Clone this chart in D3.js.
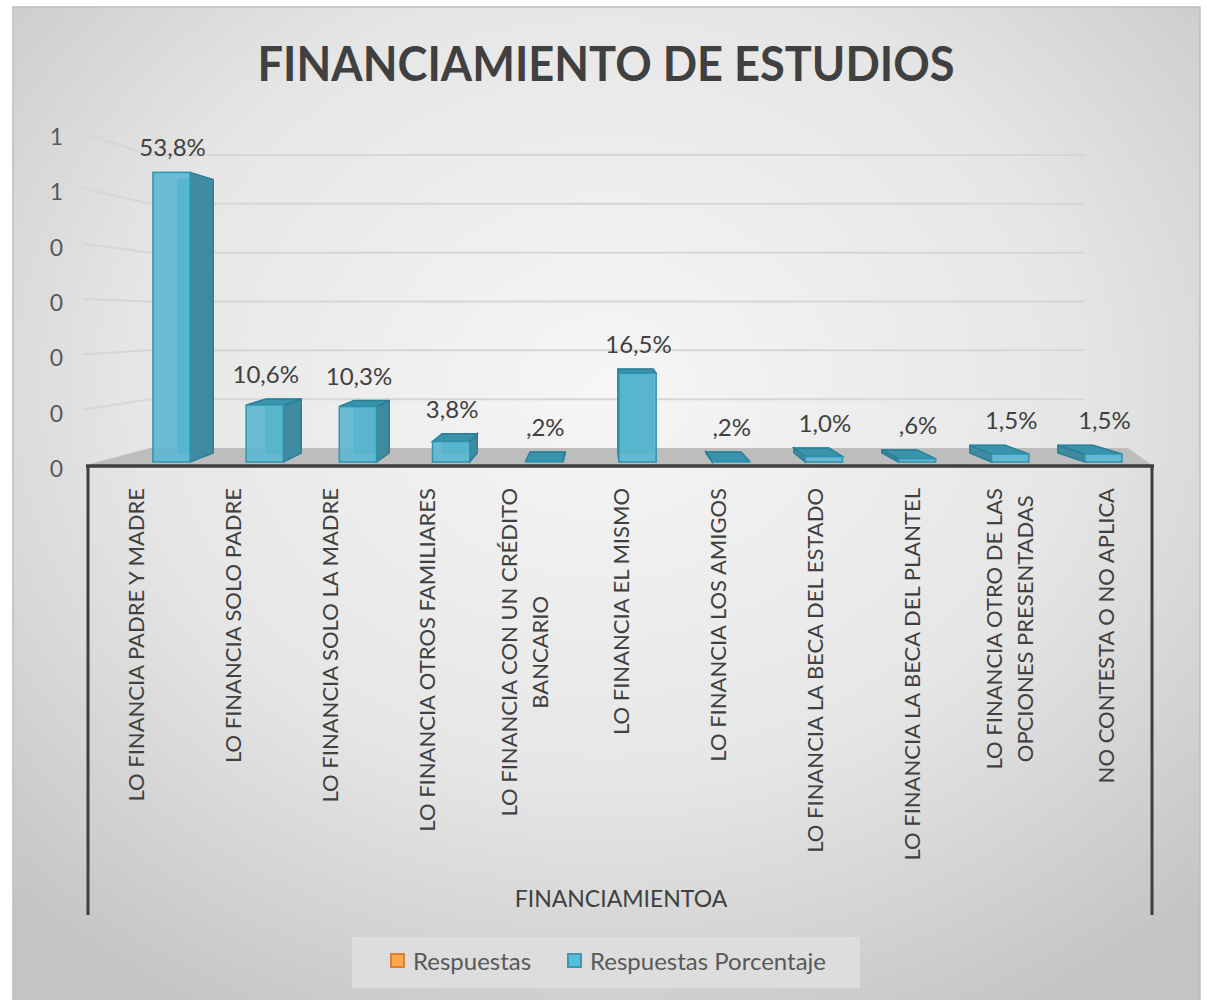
<!DOCTYPE html>
<html>
<head>
<meta charset="utf-8">
<script src="https://cdn.jsdelivr.net/npm/d3@7"></script>
<style>
  body { margin: 0; background: #fff; }
  text { font-family: Lato, "Open Sans", sans-serif; }
</style>
</head>
<body>
<div id="chart"></div>
<script>
// data
var categories = [
  "LO FINANCIA PADRE Y MADRE",
  "LO FINANCIA SOLO PADRE",
  "LO FINANCIA SOLO LA MADRE",
  "LO FINANCIA OTROS FAMILIARES",
  "LO FINANCIA CON UN CRÉDITO BANCARIO",
  "LO FINANCIA EL MISMO",
  "LO FINANCIA LOS AMIGOS",
  "LO FINANCIA LA BECA DEL ESTADO",
  "LO FINANCIA LA BECA DEL PLANTEL",
  "LO FINANCIA OTRO DE LAS OPCIONES PRESENTADAS",
  "NO CONTESTA O NO APLICA"
];
var labelLines = {
  "LO FINANCIA CON UN CRÉDITO BANCARIO": ["LO FINANCIA CON UN CRÉDITO", "BANCARIO"],
  "LO FINANCIA OTRO DE LAS OPCIONES PRESENTADAS": ["LO FINANCIA OTRO DE LAS", "OPCIONES PRESENTADAS"]
};
var porcentaje = [0.538, 0.106, 0.103, 0.038, 0.002, 0.165, 0.002, 0.010, 0.006, 0.015, 0.015];
var yTicks = [0, 0.1, 0.2, 0.3, 0.4, 0.5, 0.6];
var seriesNames = ["Respuestas", "Respuestas Porcentaje"];
var seriesColors = ["#f79646", "#4bacc6"];
var chartTitle = "FINANCIAMIENTO DE ESTUDIOS";
var axisTitle = "FINANCIAMIENTOA";

var W = 1207, H = 1000;
var svg = d3.select("#chart").append("svg")
  .attr("width", W).attr("height", H);

var defs = svg.append("defs");
var bg = defs.append("radialGradient").attr("id", "bg")
  .attr("cx", "50%").attr("cy", "38%").attr("r", "72%");
bg.append("stop").attr("offset", "0%").attr("stop-color", "#f6f6f6");
bg.append("stop").attr("offset", "55%").attr("stop-color", "#e6e6e6");
bg.append("stop").attr("offset", "100%").attr("stop-color", "#c4c4c4");

// chart area
svg.append("rect")
  .attr("x", 13).attr("y", 7).attr("width", 1187).attr("height", 1000)
  .attr("fill", "url(#bg)")
  .attr("stroke", "#bdbdbd").attr("stroke-width", 1.5);

// title
svg.append("text")
  .attr("x", 606).attr("y", 81)
  .attr("text-anchor", "middle")
  .attr("textLength", 697).attr("lengthAdjust", "spacingAndGlyphs")
  .style("font-size", "48px").style("font-weight", "bold")
  .style("fill", "#404040")
  .text(chartTitle);

// scales
var yFront = d3.scaleLinear().domain([0, 0.6]).range([465, 133]);  // left wall front edge
var yBack = d3.scaleLinear().domain([0, 0.6]).range([448, 155]);   // back wall
var yBar = d3.scaleLinear().domain([0, 0.6]).range([462, 139]);    // bar front plane
var xCat = d3.scaleBand().domain(categories).range([88, 1155]);
var xBar = d3.scaleBand().domain(categories).range([125, 1150]).paddingInner(0.6).paddingOuter(0.3);

// perspective: back corners drawn towards a vanishing point
var vp = {x: 603, y: 300}, depth = 0.0557;
function back(p) {
  return [p[0] + (vp.x - p[0]) * depth, p[1] + (vp.y - p[1]) * depth];
}

// gridlines: side wall + back wall
var grid = svg.append("g");
yTicks.filter(function(d) { return d > 0; }).forEach(function(t) {
  grid.append("path")
    .attr("d", "M83," + yFront(t) + "L150," + yBack(t) + "L1085," + yBack(t))
    .attr("fill", "none")
    .attr("stroke", "#d6d6d6").attr("stroke-width", 2);
});

// floor
svg.append("path")
  .attr("d", "M86," + yFront(0) + "L150," + yBack(0) + "L1128," + yBack(0) + "L1152," + yFront(0) + "Z")
  .attr("fill", "#bdbdbd");

// y axis labels
var yAxis = svg.append("g")
  .attr("transform", "translate(63,4)")
  .call(d3.axisLeft(yFront).tickValues(yTicks).tickFormat(d3.format(".0f")).tickSize(0).tickPadding(0));
yAxis.select(".domain").remove();
yAxis.selectAll("text")
  .style("font-family", "Lato, sans-serif")
  .style("font-size", "23px")
  .style("fill", "#595959");

// bars
var bars = svg.append("g");
porcentaje.forEach(function(v, i) {
  var c = categories[i];
  var x0 = xBar(c), x1 = x0 + xBar.bandwidth();
  var yt = yBar(v), yb = yBar(0);
  var g = bars.append("g");
  function poly(pts) { return "M" + pts.map(function(p) { return p.join(","); }).join("L") + "Z"; }
  var bTL = back([x0, yt]), bTR = back([x1, yt]), bBL = back([x0, yb]), bBR = back([x1, yb]);
  // back edges seen through the glass
  g.append("path").attr("d", poly([bTL, bTR, bBR, bBL]))
    .attr("fill", "#3d9fba").attr("stroke", "#2f8eaa").attr("stroke-width", 1);
  // side face
  if (vp.x > x1) {
    g.append("path").attr("d", poly([[x1, yt], bTR, bBR, [x1, yb]]))
      .attr("fill", "#3f8a9e").attr("stroke", "#2a7f98").attr("stroke-width", 1.5);
  } else if (vp.x < x0) {
    g.append("path").attr("d", poly([[x0, yt], bTL, bBL, [x0, yb]]))
      .attr("fill", "#3f8a9e").attr("stroke", "#2a7f98").attr("stroke-width", 1.5);
  }
  // top face
  if (vp.y < yt) {
    g.append("path").attr("d", poly([[x0, yt], [x1, yt], bTR, bTL]))
      .attr("fill", "#3a93ab").attr("stroke", "#2a7f98").attr("stroke-width", 1.5);
  }
  // front face
  g.append("rect")
    .attr("x", x0).attr("y", yt)
    .attr("width", x1 - x0).attr("height", Math.max(yb - yt, 1))
    .attr("fill", "#5bb7d0").attr("fill-opacity", 0.9)
    .attr("stroke", "#2e93b0").attr("stroke-width", 1.5);

  // data label
  var lbl = d3.format(".1f")(v * 100).replace(".", ",");
  if (lbl.indexOf("0,") === 0) lbl = lbl.slice(1);
  svg.append("text")
    .attr("x", (x0 + x1) / 2 + 1)
    .attr("y", Math.min(yt, bTL[1]) - 16)
    .attr("text-anchor", "middle")
    .style("font-size", "24px").style("fill", "#404040")
    .text(lbl + "%");
});

// category axis line and brackets
var axisColor = "#3f3f3f";
svg.append("line").attr("x1", 86).attr("x2", 1154).attr("y1", 466).attr("y2", 466)
  .attr("stroke", axisColor).attr("stroke-width", 3.5);
[88, 1152].forEach(function(x) {
  svg.append("line").attr("x1", x).attr("x2", x).attr("y1", 466).attr("y2", 915)
    .attr("stroke", axisColor).attr("stroke-width", 3);
});

// category labels (rotated)
var catG = svg.append("g");
categories.forEach(function(c) {
  var lines = labelLines[c] || [c];
  var cx = xCat(c) + xCat.bandwidth() / 2;
  var gap = 31;
  var tmp = [];
  lines.forEach(function(s, k) {
    var t = catG.append("text")
      .attr("text-anchor", "middle")
      .attr("dy", "0.36em")
      .style("font-size", "22px").style("fill", "#404040")
      .text(s);
    tmp.push(t);
  });
  var maxLen = d3.max(tmp, function(t) { return t.node().getComputedTextLength(); });
  var cy = 488 + maxLen / 2;
  tmp.forEach(function(t, k) {
    var lx = cx + (k - (lines.length - 1) / 2) * gap;
    t.attr("transform", "translate(" + lx + "," + cy + ") rotate(-90)");
  });
});

// axis title
svg.append("text")
  .attr("x", 621).attr("y", 907)
  .attr("text-anchor", "middle")
  .style("font-size", "23px").style("fill", "#404040")
  .text(axisTitle);

// legend
var legend = svg.append("g");
legend.append("rect")
  .attr("x", 352).attr("y", 937).attr("width", 508).attr("height", 51)
  .attr("fill", "#dddddd");
var legX = [391, 568];
seriesNames.forEach(function(name, i) {
  legend.append("rect")
    .attr("x", legX[i]).attr("y", 954).attr("width", 13).attr("height", 13)
    .attr("fill", d3.color(seriesColors[i]).brighter(0.3))
    .attr("stroke", d3.color(seriesColors[i]).darker(0.4)).attr("stroke-width", 2);
  legend.append("text")
    .attr("x", legX[i] + 22).attr("y", 970)
    .style("font-size", "24px").style("fill", "#595959")
    .text(name);
});
</script>
</body>
</html>
